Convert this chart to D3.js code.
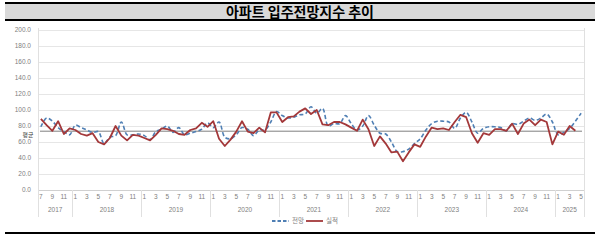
<!DOCTYPE html>
<html>
<head>
<meta charset="utf-8">
<script src="https://cdn.jsdelivr.net/npm/d3@7"></script>
<style>
    body { margin: 0; background: #fff; }
    svg { display: block; font-family: "Noto Sans CJK KR", "Noto Sans", sans-serif; }
    .num { font-family: "Liberation Sans", Arial, sans-serif; }
</style>
</head>
<body>
<div id="chart"></div>
<script>
// chart data
var title = "아파트 입주전망지수 추이";
var seriesNames = ["전망", "실적"];
var yTicks = [0, 20, 40, 60, 80, 100, 120, 140, 160, 180, 200];
var avgLabel = "평균";
var avgValue = [73.5];
// months from 2017-07 to 2025-05
var months = d3.timeMonths(new Date(2017, 6, 1), new Date(2025, 5, 1));
var outlook = [79, 90, 86, 78, 73, 69,
    81, 78, 75, 72, 73, 58, 66, 68, 85, 69, 69, 70,
    68, 63, 73, 76, 80, 72, 78, 69, 71, 73, 76, 84,
    78, 85, 66, 64, 69, 78, 76, 68, 75, 75, 85, 98,
    93, 90, 91, 94, 95, 104, 96, 102, 80, 83, 83, 93,
    83, 75, 80, 93, 81, 71, 70, 60, 48, 48, 51, 58,
    64, 75, 83, 86, 86, 85, 77, 90, 97, 85, 71, 77,
    79, 79, 78, 74, 83, 82, 86, 90, 87, 90, 95, 85,
    69, 72, 77, 86, 96];
var actual = [89, 81, 74, 86, 70, 77,
    75, 70, 68, 71, 60, 57, 65, 80, 68, 62, 69, 68,
    65, 62, 69, 77, 76, 74, 70, 69, 75, 77, 84, 79,
    86, 64, 55, 63, 73, 86, 73, 71, 78, 72, 97, 97,
    85, 91, 92, 98, 102, 95, 100, 82, 81, 85, 85, 82,
    78, 74, 88, 76, 55, 67, 58, 47, 48, 36, 47, 57,
    54, 67, 78, 76, 77, 75, 85, 94, 91, 71, 59, 71,
    69, 76, 76, 74, 83, 70, 83, 88, 81, 88, 85, 57,
    73, 69, 80, 74];

var W = 600, H = 240;
var blue = "#4f7fb4", red = "#a3383a";

var svg = d3.select("#chart").append("svg")
    .attr("width", W)
    .attr("height", H);

// title band
svg.append("rect")
    .attr("x", 5).attr("y", 3)
    .attr("width", 590).attr("height", 17)
    .attr("fill", "#d9d9d9");
svg.append("line").attr("x1", 5).attr("x2", 595).attr("y1", 3).attr("y2", 3)
    .attr("stroke", "#000").attr("stroke-width", 2);
svg.append("line").attr("x1", 5).attr("x2", 595).attr("y1", 20).attr("y2", 20)
    .attr("stroke", "#000").attr("stroke-width", 2);
svg.append("text")
    .attr("x", 300).attr("y", 16.5)
    .attr("text-anchor", "middle")
    .style("font-size", "14px")
    .style("font-weight", "bold")
    .text(title);

// bottom rule
svg.append("line").attr("x1", 5).attr("x2", 595).attr("y1", 233).attr("y2", 233)
    .attr("stroke", "#000").attr("stroke-width", 2);

var x = d3.scaleBand()
    .domain(d3.range(months.length))
    .range([38, 584]);
var y = d3.scaleLinear()
    .domain([0, 200])
    .range([190, 30]);
var cx = function(i) { return x(i) + x.bandwidth() / 2; };

// gridlines + y labels
svg.append("g")
    .selectAll("line")
    .data(yTicks)
    .enter().append("line")
    .attr("x1", 38).attr("x2", 584)
    .attr("y1", function(d) { return y(d) + 0.5; })
    .attr("y2", function(d) { return y(d) + 0.5; })
    .attr("stroke", function(d) { return d === 0 ? "#d0d0d0" : "#e6e6e6"; })
    .attr("stroke-width", 1);

svg.append("g")
    .selectAll("text")
    .data(yTicks)
    .enter().append("text")
    .attr("class", "num")
    .attr("x", 31)
    .attr("y", function(d) { return y(d); })
    .attr("dy", "0.35em")
    .attr("text-anchor", "end")
    .attr("fill", "#808080")
    .style("font-size", "6.5px")
    .text(function(d) { return d.toFixed(1); });

// category axis: month labels, year labels, separators
var oddIdx = d3.range(months.length).filter(function(i) { return months[i].getMonth() % 2 === 0; });
svg.append("g")
    .selectAll("text")
    .data(oddIdx)
    .enter().append("text")
    .attr("class", "num")
    .attr("x", cx)
    .attr("y", 199)
    .attr("text-anchor", "middle")
    .attr("fill", "#808080")
    .style("font-size", "6.5px")
    .text(function(i) { return months[i].getMonth() + 1; });

var years = d3.groups(d3.range(months.length), function(i) { return months[i].getFullYear(); });
svg.append("g")
    .selectAll("text")
    .data(years)
    .enter().append("text")
    .attr("class", "num")
    .attr("x", function(d) { return (x(d[1][0]) + x(d[1][d[1].length - 1]) + x.bandwidth()) / 2; })
    .attr("y", 212)
    .attr("text-anchor", "middle")
    .attr("fill", "#808080")
    .style("font-size", "6.5px")
    .text(function(d) { return d[0]; });

var seps = years.map(function(d) { return x(d[1][0]); }).concat([584]);
svg.append("g")
    .selectAll("line")
    .data(seps)
    .enter().append("line")
    .attr("x1", function(d) { return Math.round(d) + 0.5; })
    .attr("x2", function(d) { return Math.round(d) + 0.5; })
    .attr("y1", function(d, i) { return (i === 0 || i === seps.length - 1) ? 28 : 190; })
    .attr("y2", 217)
    .attr("stroke", "#e0e0e0");

// average line
svg.append("line")
    .attr("x1", 40).attr("x2", 582)
    .attr("y1", y(avgValue[0])).attr("y2", y(avgValue[0]))
    .attr("stroke", "#606060").attr("stroke-width", 0.8);
svg.append("text")
    .attr("x", 28).attr("y", y(avgValue[0]) + 5.4)
    .attr("text-anchor", "middle")
    .attr("fill", "#404040")
    .style("font-size", "5.9px")
    .text(avgLabel);

// series
var smooth = d3.line()
    .x(function(d, i) { return cx(i); })
    .y(function(d) { return y(d); })
    .curve(d3.curveCatmullRom.alpha(0.5));
var straight = d3.line()
    .x(function(d, i) { return cx(i); })
    .y(function(d) { return y(d); });

svg.append("path")
    .attr("d", smooth(outlook))
    .attr("fill", "none")
    .attr("stroke", blue)
    .attr("stroke-width", 1.6)
    .attr("stroke-dasharray", "4,2.5");
svg.append("path")
    .attr("d", straight(actual))
    .attr("fill", "none")
    .attr("stroke", red)
    .attr("stroke-width", 1.8)
    .attr("stroke-linejoin", "round");

// legend
var legend = svg.append("g")
    .selectAll("g")
    .data(seriesNames)
    .enter().append("g")
    .attr("transform", function(d, i) { return "translate(" + (272 + i * 34) + ",221)"; });
legend.append("line")
    .attr("x1", 0).attr("x2", 17)
    .attr("stroke", function(d, i) { return i === 0 ? blue : red; })
    .attr("stroke-width", 1.8)
    .attr("stroke-dasharray", function(d, i) { return i === 0 ? "3.5,2" : null; });
legend.append("text")
    .attr("x", 20)
    .attr("dy", "0.35em")
    .attr("fill", "#808080")
    .style("font-size", "6.5px")
    .text(function(d) { return d; });
</script>
</body>
</html>
